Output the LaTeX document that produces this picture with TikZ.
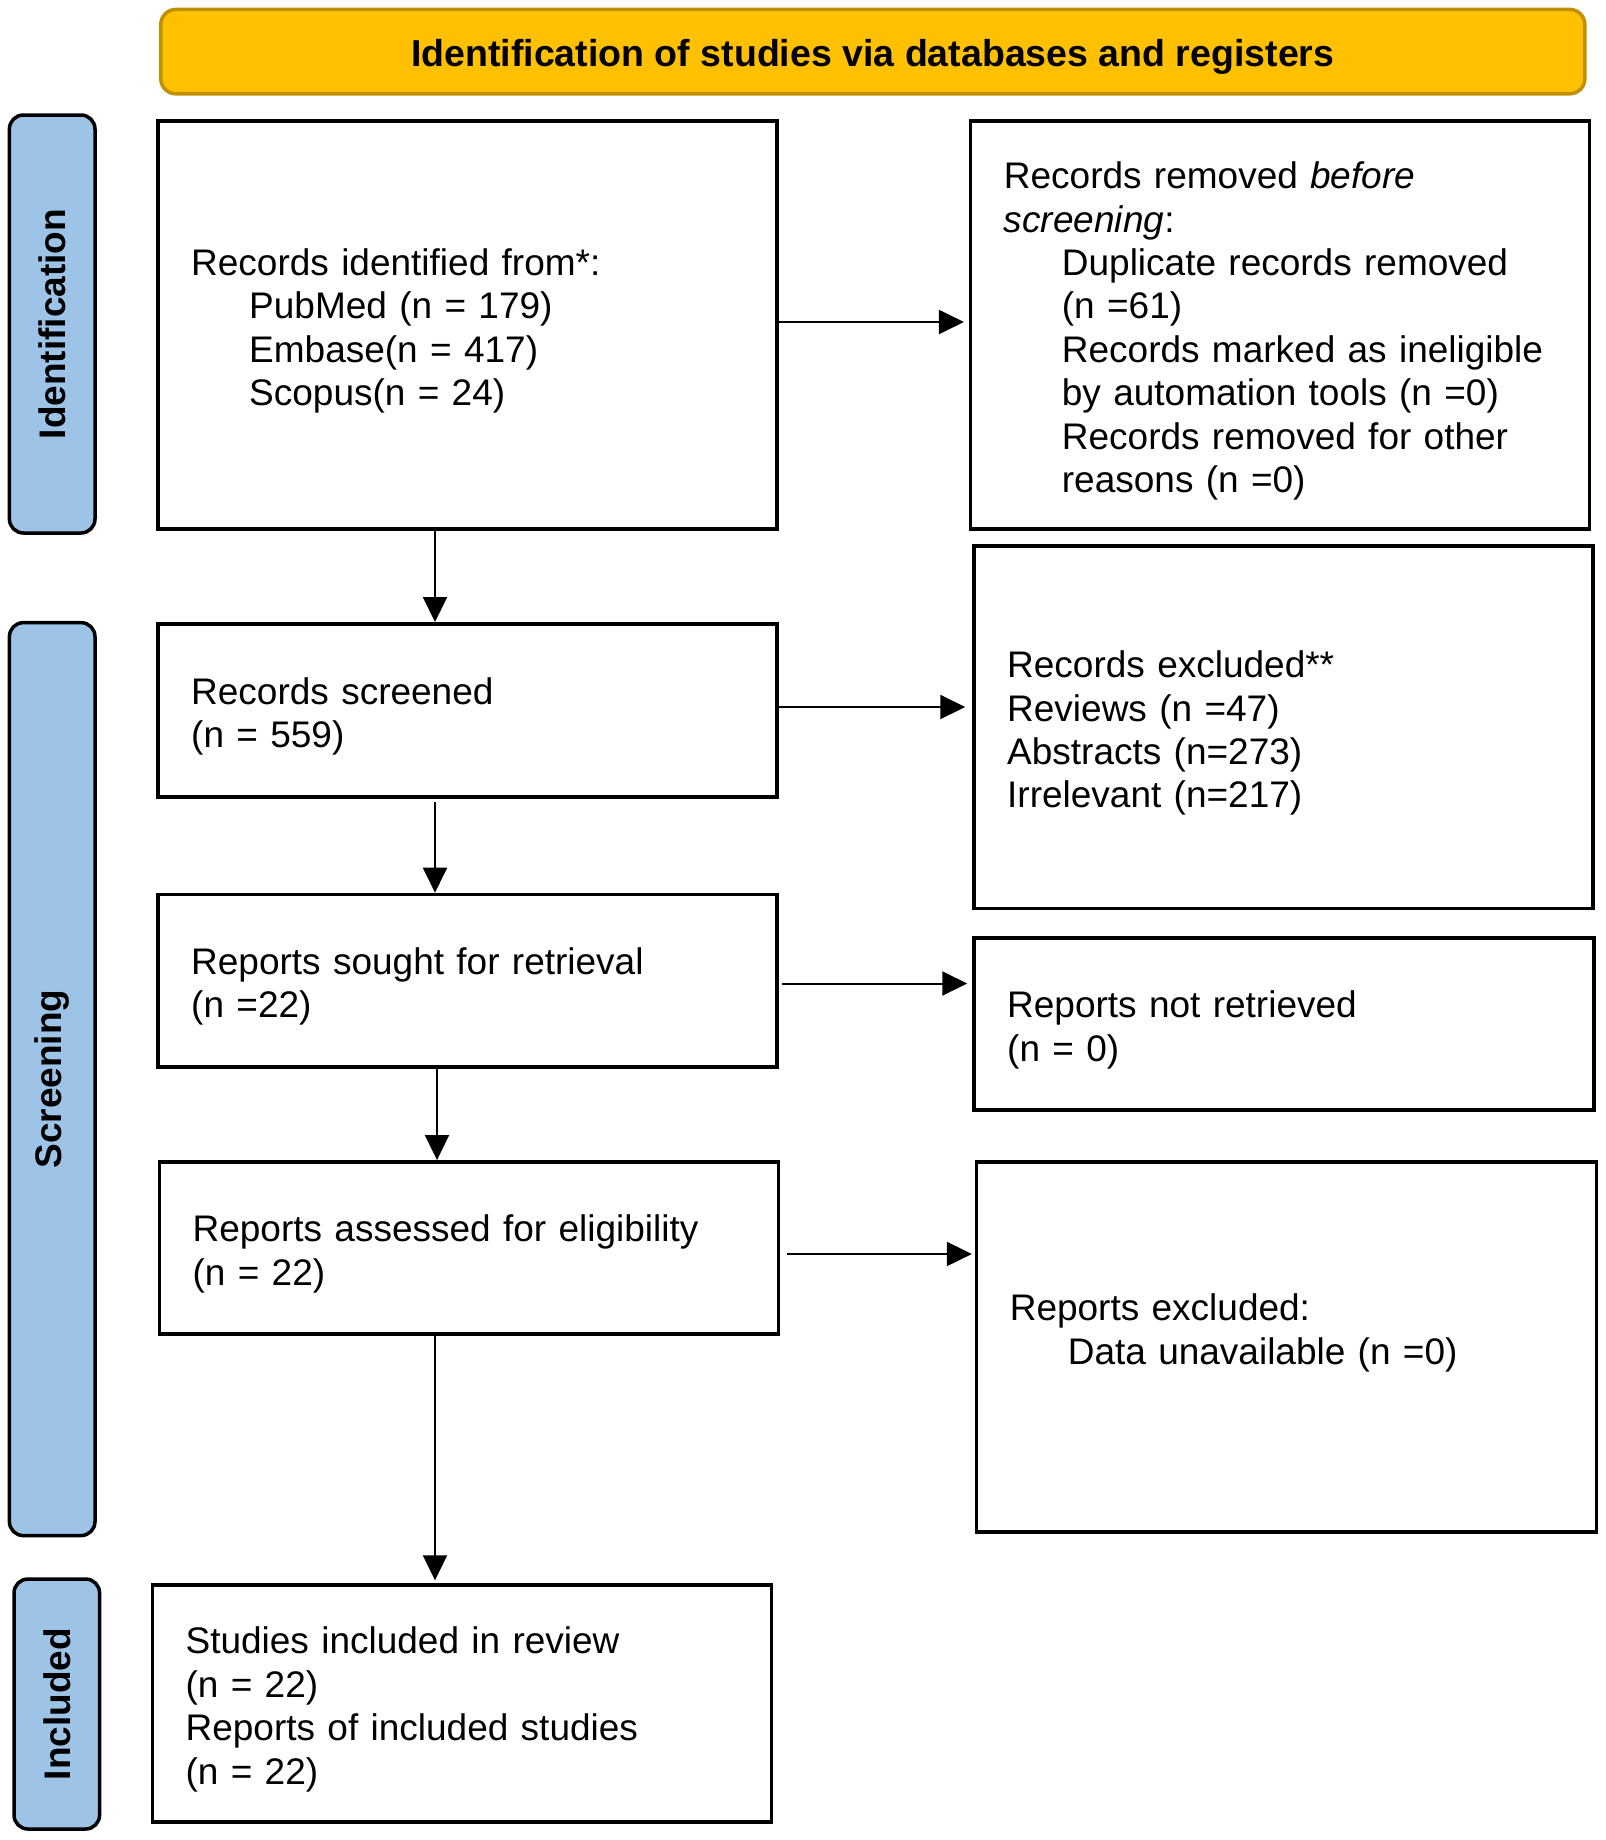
\documentclass[tikz,border=0pt]{standalone}
\usepackage{fontspec}
\setmainfont{Liberation Sans}
\usetikzlibrary{arrows.meta}
\definecolor{titleyellow}{HTML}{FFC000}
\definecolor{titleborder}{HTML}{BF9000}
\definecolor{sideblue}{HTML}{9DC3E6}
\tikzset{
  box/.style={draw=black, line width=3.5pt, rectangle, inner sep=0pt,
    minimum width=619pt},
  boxtext/.style={align=left, inner sep=0pt, anchor=west, text width=553pt,
    font=\fontsize{37}{43.4}\selectfont},
  arr/.style={line width=2pt, -{Triangle[length=25pt,width=24pt]}},
  side/.style={draw=black, fill=sideblue, line width=3.5pt, rounded corners=14pt,
    rotate=90, inner sep=0pt, minimum height=85.6pt,
    font=\bfseries\fontsize{37}{44}\selectfont},
  titlebox/.style={draw=titleborder, fill=titleyellow, line width=3.5pt,
    rounded corners=15pt, inner sep=0pt, text height=29pt, text depth=0pt,
    font=\bfseries\fontsize{37.5}{44}\selectfont}
}
\newcommand{\ind}{\hspace*{58pt}}
\begin{document}
\begin{tikzpicture}[x=1pt,y=-1pt]
\useasboundingbox (0,0) rectangle (1606,1840);

% title
\node[titlebox, minimum width=1424pt, minimum height=84.4pt] (title) at (872.8,51.6)
  {Identification of studies via databases and registers};

% side labels
\node[side, minimum width=418pt] (sid) at (52.2,324) {Identification};
\node[side, minimum width=913pt] (sscr) at (52.2,1079.1) {Screening};
\node[side, minimum width=250pt] (sinc) at (56.8,1704) {Included};

% boxes
\node[box, minimum height=408pt] (b1) at (467.5,325) {};
\node[box, minimum height=408pt] (b2) at (1280.2,325) {};
\node[box, minimum height=173.3pt] (b3) at (467.5,710.4) {};
\node[box, minimum height=362.5pt] (b4) at (1283.5,727.3) {};
\node[box, minimum height=172.3pt] (b5) at (467.5,980.6) {};
\node[box, minimum width=620pt, minimum height=172pt] (b6) at (1284,1024) {};
\node[box, minimum height=172.2pt] (b7) at (468.9,1247.9) {};
\node[box, minimum width=620pt, minimum height=370.2pt] (b8) at (1286.6,1346.9) {};
\node[box, minimum height=236.7pt] (b9) at (461.9,1703.4) {};

% box texts
\node[boxtext] (t1) at ([xshift=34.75pt,yshift=-6pt]b1.west)
  {Records identified from*:\\
   \ind PubMed (n = 179)\\
   \ind Embase(n = 417)\\
   \ind Scopus(n = 24)};
\node[boxtext] (t2) at ([xshift=34.75pt,yshift=-6pt]b2.west)
  {Records removed \textit{before}\\
   \textit{screening}:\\
   \ind Duplicate records removed\\
   \ind (n =61)\\
   \ind Records marked as ineligible\\
   \ind by automation tools (n =0)\\
   \ind Records removed for other\\
   \ind reasons (n =0)};
\node[boxtext] (t3) at ([xshift=34.75pt,yshift=-6pt]b3.west)
  {Records screened\\(n = 559)};
\node[boxtext] (t4) at ([xshift=34.75pt,yshift=-6pt]b4.west)
  {Records excluded**\\
   Reviews (n =47)\\
   Abstracts (n=273)\\
   Irrelevant (n=217)};
\node[boxtext] (t5) at ([xshift=34.75pt,yshift=-6pt]b5.west)
  {Reports sought for retrieval\\(n =22)};
\node[boxtext] (t6) at ([xshift=34.75pt,yshift=-6pt]b6.west)
  {Reports not retrieved\\(n = 0)};
\node[boxtext] (t7) at ([xshift=34.75pt,yshift=-6pt]b7.west)
  {Reports assessed for eligibility\\(n = 22)};
\node[boxtext] (t8) at ([xshift=34.75pt,yshift=14pt]b8.west)
  {Reports excluded:\\
   \ind Data unavailable (n =0)};
\node[boxtext] (t9) at ([xshift=34.75pt,yshift=-6pt]b9.west)
  {Studies included in review\\
   (n = 22)\\
   Reports of included studies\\
   (n = 22)};

% vertical arrows
\draw[arr] (b1.south -| 435,0) -- (b3.north -| 435,0);
\draw[arr, shorten <=3pt] (b3.south -| 435,0) -- (b5.north -| 435,0);
\draw[arr] (b5.south -| 437,0) -- (b7.north -| 437,0);
\draw[arr, shorten >=3pt] (b7.south -| 435,0) -- (b9.north -| 435,0);

% horizontal arrows
\draw[arr, shorten >=5pt] (b1.east |- 0,322) -- (b2.west |- 0,322);
\draw[arr, shorten >=7pt] (b3.east |- 0,707) -- (b4.west |- 0,707);
\draw[arr, shorten <=3pt, shorten >=5pt] (b5.east |- 0,983.5) -- (b6.west |- 0,983.5);
\draw[arr, shorten <=6.5pt, shorten >=3pt] (b7.east |- 0,1254) -- (b8.west |- 0,1254);
\end{tikzpicture}
\end{document}
